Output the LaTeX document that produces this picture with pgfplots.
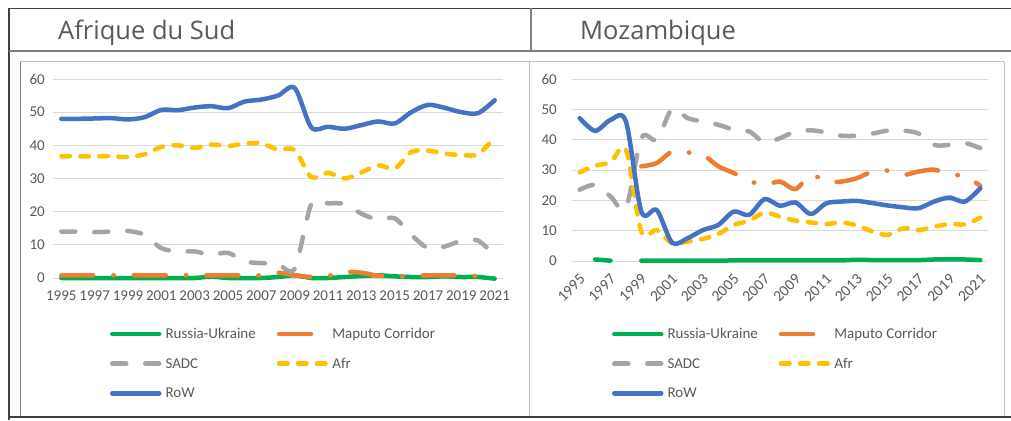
\documentclass[border=0pt]{standalone}
\usepackage{pgfplots}
\pgfplotsset{compat=1.18}
\usepackage{pgfplotstable}
\usepackage{fontspec}
\setmainfont{Carlito}
\newfontfamily\chartfont{Carlito}
\newfontfamily\headfont{Open Sans}
\definecolor{cgreen}{HTML}{00B050}
\definecolor{corange}{HTML}{ED7D31}
\definecolor{cgray}{HTML}{A5A5A5}
\definecolor{cgold}{HTML}{FFC000}
\definecolor{cblue}{HTML}{4472C4}
\definecolor{txtgray}{HTML}{595959}
\definecolor{gridgray}{HTML}{D9D9D9}
\definecolor{frameDark}{HTML}{404040}
\definecolor{frameMid}{HTML}{7F7F7F}
\definecolor{frameLight}{HTML}{BFBFBF}

\pgfplotstableread{
year ru mc sadc afr row
1995 0 0.8 14 36.7 48
1996 0 0.8 14 36.7 48
1997 0 0.8 13.8 36.7 48.1
1998 0 0.8 14 36.7 48.2
1999 0 0.8 14.2 36.5 47.8
2000 0 0.8 13 37.3 48.5
2001 0 0.8 9 39.5 50.7
2002 0 0.8 8 40 50.6
2003 0 0.8 8 39.2 51.4
2004 0.4 0.8 7 40.2 51.8
2005 0 0.8 7.6 39.8 51.2
2006 0 0.8 5 40.5 53.2
2007 0 0.8 4.5 40.6 53.8
2008 0.3 1.6 4.2 38.7 55
2009 0.8 0.8 2.8 38.6 57.3
2010 0 0.3 22.3 30.4 45.4
2011 0 0.6 22.5 31.7 45.6
2012 0.3 1.8 22.3 30 45
2013 0.6 1.6 19.4 31.8 46.1
2014 0.8 0.7 17.6 34 47.2
2015 0.5 0.5 18 33 46.6
2016 0.3 0.6 13 38 50
2017 0.3 0.8 9 38.4 52.2
2018 0.5 0.8 9.5 37.5 51.3
2019 0.3 0.8 11.2 37.1 50
2020 0.3 0.6 11.3 37.3 49.7
2021 -0.2 0.4 6.8 42.4 53.6
}\tblSA

\pgfplotstableread{
year ru mc sadc afr row
1995 nan nan 23.5 29.2 47.1
1996 0.5 nan 25.1 31.4 42.9
1997 0.1 nan 21.3 32.6 46.5
1998 nan nan 17.4 36.7 46
1999 0.1 31.2 40.5 9.7 16.3
2000 0.1 32.3 40 10.2 16.8
2001 0.1 36.1 50.2 5.8 6
2002 0.1 35.8 47.1 6.4 7.5
2003 0.1 35 46 7.3 10.2
2004 0.1 31.2 44.9 8.9 11.9
2005 0.2 29 43.3 11.9 16.3
2006 0.2 26.4 42.7 13.3 15.2
2007 0.2 25.1 39.1 16 20.4
2008 0.2 26.2 40.5 14.6 18.2
2009 0.2 23.7 42.7 13.3 19.3
2010 0.2 28.4 43.1 12.7 15.5
2011 0.2 26.2 42.4 12.2 19
2012 0.2 26.2 41.3 12.7 19.6
2013 0.4 27.3 41.3 11.7 19.8
2014 0.3 29.5 42 9.7 19.1
2015 0.3 29.8 43 8.6 18.3
2016 0.3 28.4 43 10.8 17.7
2017 0.3 29.5 42 10.2 17.4
2018 0.5 30.1 38.3 11.3 19.6
2019 0.5 28.6 38.3 12.2 20.9
2020 0.5 27.9 38.9 12.1 19.6
2021 0.3 24.8 37.2 14.3 24
}\tblMZ

\pgfplotsset{
  chartbase/.style={
    scale only axis,
    xmin=1994.5, xmax=2021.5, ymin=0, ymax=60,
    xtick={1995,1997,...,2021}, ytick={0,10,...,60},
    ymajorgrids, grid style={draw=gridgray, line width=1pt},
    axis line style={draw=none}, major tick length=0pt,
    /pgf/number format/assume math mode=true,
    /pgf/number format/1000 sep={},
    tick label style={font=\chartfont\fontsize{15}{18}\selectfont, text=txtgray},
    clip=false,
    unbounded coords=jump,
    legend columns=2,
    legend cell align=left,
    legend image code/.code={\draw[##1] (0pt,4.5pt) -- (47pt,4.5pt);},
    legend style={draw=none, fill=none, inner sep=0pt, outer sep=0pt,
      font=\chartfont\fontsize{15}{18}\selectfont, text=txtgray,
      row sep=16.7pt,
      nodes={inner sep=0pt, text height=10pt, text depth=3pt, anchor=base west},
      /tikz/every odd column/.append style={column sep=4pt},
      /tikz/every even column/.append style={column sep=21pt}},
  },
  sRU/.style={cgreen, line width=4.5pt, line cap=round, line join=round, smooth, no marks},
  sMC/.style={corange, line width=4.5pt, line cap=round, line join=round, smooth, no marks,
     dash pattern=on 32pt off 20pt on 0.5pt off 20pt},
  sSADC/.style={cgray, line width=4.5pt, line cap=round, line join=round, smooth, no marks,
     dash pattern=on 14pt off 19pt},
  sAFR/.style={cgold, line width=4.5pt, line cap=round, line join=round, smooth, no marks,
     dash pattern=on 8.5pt off 10.5pt},
  sROW/.style={cblue, line width=4.5pt, line cap=round, line join=round, smooth, no marks},
}

\begin{document}
\begin{tikzpicture}
\path[use as bounding box] (0pt,0pt) rectangle (1011pt,-420pt);
% frame
\draw[frameDark, line width=1.5pt] (9pt,-8.5pt) -- (1011pt,-8.5pt);
\draw[frameDark, line width=1.2pt] (9pt,-8.5pt) -- (9pt,-420pt);
\draw[frameMid, line width=1.2pt] (531pt,-8.5pt) -- (531pt,-51pt);
\draw[frameMid, line width=1.5pt] (9pt,-51pt) -- (1011pt,-51pt);
\draw[frameLight, line width=1pt] (20pt,-62pt) -- (1004pt,-62pt);
\draw[frameMid, line width=1pt] (20pt,-62pt) -- (20pt,-416pt);
\draw[frameLight, line width=1pt] (529pt,-62pt) -- (529pt,-416pt);
\draw[frameLight, line width=1pt] (1004pt,-62pt) -- (1004pt,-416pt);
\draw[frameDark, line width=2pt] (9pt,-416.5pt) -- (1011pt,-416.5pt);
% headers
\node[anchor=base west, inner sep=0pt, text=txtgray, font=\headfont\fontsize{25.5}{30}\selectfont] at (58pt,-40pt) {Afrique du Sud};
\node[anchor=base west, inner sep=0pt, text=txtgray, font=\headfont\fontsize{25.5}{30}\selectfont] at (580pt,-40pt) {Mozambique};

% left chart
\begin{axis}[chartbase,
  at={(53pt,-278pt)}, anchor=south west, width=450pt, height=199pt,
  yticklabel style={inner sep=0pt, xshift=-8pt},
  xticklabel style={inner sep=0pt, yshift=-13pt},
  legend style={at={(0.1267,-0.2538)}, anchor=north west},
]
\addplot[sRU] table[x=year,y=ru] {\tblSA};
\addlegendentry{Russia-Ukraine}
\addplot[sMC] table[x=year,y=mc] {\tblSA};
\addlegendentry{Maputo Corridor}
\addplot[sSADC] table[x=year,y=sadc] {\tblSA};
\addlegendentry{SADC}
\addplot[sAFR] table[x=year,y=afr] {\tblSA};
\addlegendentry{Afr}
\addplot[sROW] table[x=year,y=row] {\tblSA};
\addlegendentry{RoW}
\end{axis}

% right chart
\begin{axis}[chartbase,
  at={(572pt,-261pt)}, anchor=south west, width=416pt, height=182pt,
  yticklabel style={inner sep=0pt, xshift=-15pt},
  xticklabel style={inner sep=0pt, xshift=-1pt, yshift=-12pt, rotate=45, anchor=north east, font=\chartfont\fontsize{15.5}{18}\selectfont},
  legend style={at={(0.0962,-0.371)}, anchor=north west},
]
\addplot[sRU] table[x=year,y=ru] {\tblMZ};
\addlegendentry{Russia-Ukraine}
\addplot[sMC] table[x=year,y=mc] {\tblMZ};
\addlegendentry{Maputo Corridor}
\addplot[sSADC] table[x=year,y=sadc] {\tblMZ};
\addlegendentry{SADC}
\addplot[sAFR] table[x=year,y=afr] {\tblMZ};
\addlegendentry{Afr}
\addplot[sROW] table[x=year,y=row] {\tblMZ};
\addlegendentry{RoW}
\end{axis}
\end{tikzpicture}
\end{document}
